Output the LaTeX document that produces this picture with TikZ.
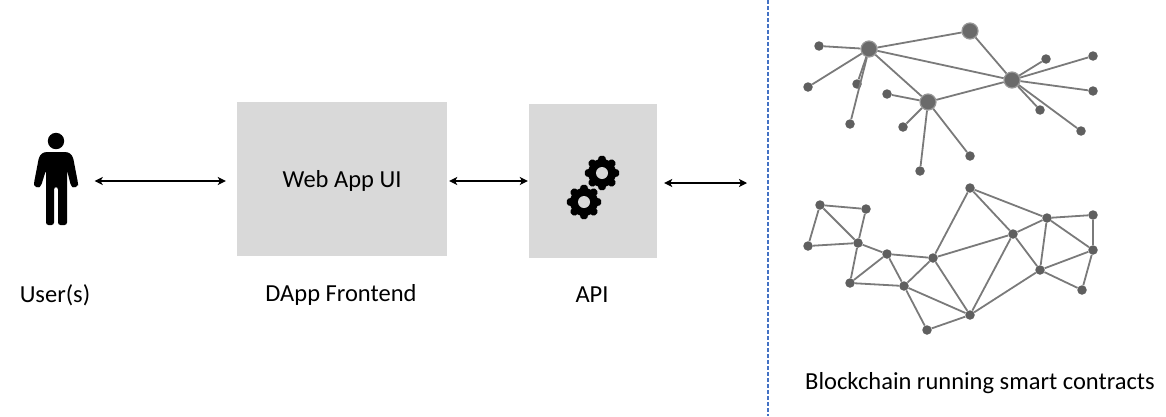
\documentclass[tikz,border=0pt]{standalone}
\usepackage{fontspec}
\setmainfont{Carlito}
\usetikzlibrary{arrows.meta}
\definecolor{boxgray}{HTML}{D9D9D9}
\definecolor{dotgray}{HTML}{5F5F5F}
\definecolor{hubgray}{HTML}{6A6A6A}
\definecolor{linkgray}{HTML}{7A7A7A}
\definecolor{splitblue}{HTML}{4472C4}
\tikzset{
  panel/.style={fill=boxgray, minimum width=#1, inner sep=0pt},
  caption/.style={font=\fontsize{24.5}{28}\selectfont, inner sep=0pt},
  hub/.style={circle, fill=hubgray, draw=hubgray!70!white, line width=1.2pt, minimum size=16pt, inner sep=0pt},
  leaf/.style={circle, fill=dotgray, minimum size=9.5pt, inner sep=0pt},
  link/.style={linkgray, line width=1.8pt},
  both/.style={{Stealth[length=8pt,width=8pt,inset=2pt]}-{Stealth[length=8pt,width=8pt,inset=2pt]}, line width=1.4pt, black},
  gear/.pic={
    \fill[black] (0,0) circle [radius=14];
    \foreach \a in {0,45,...,315}
      \fill[black, rotate=\a, rounded corners=1.5pt] (-4.5,11) -- (-3,17.2) -- (3,17.2) -- (4.5,11) -- cycle;
    \fill[boxgray] (0,0) circle [radius=6];
  }
}

\begin{document}
\begin{tikzpicture}[x=1pt,y=-1pt]
\useasboundingbox (0,0) rectangle (1166,416);

% boxes
\node[panel=210pt, minimum height=154pt] (web) at (342,179) {};
\node[panel=128pt, minimum height=154pt] (api) at (593,181) {};
\node[inner sep=0pt, minimum width=44pt, minimum height=92pt] (user) at (55.5,179) {};
\coordinate (chainport) at (747,183);

% person
\fill[black] (56,141) circle [radius=8.2];
\fill[black, rounded corners=2.5pt] (42,153) -- (46,152) -- (66,152) -- (70,153)
  -- (73,157) -- (78,183) -- (78,186) -- (74,188) -- (71,186) -- (67,170)
  -- (67,225) -- (58,225) -- (58,187) -- (54,187) -- (54,225) -- (46,225) -- (46,170)
  -- (41,186) -- (38,188) -- (34,186) -- (34,183) -- (39,157) -- cycle;

% gears
\pic at (602,173) {gear};
\pic at (584,202) {gear};

% texts
\node[caption] (webtext) at (342,181) {Web App UI};
\node[caption] (usertext) at (55,295) {User(s)};
\node[caption] (dapptext) at (341,295) {DApp Frontend};
\node[caption] (apitext) at (592,295) {API};
\node[caption] (chaintext) at (980,383) {Blockchain running smart contracts};

% arrows
\draw[both, shorten <=17pt, shorten >=11pt] (user.east |- 0,181) -- (web.west |- 0,181);
\draw[both, shorten <=2pt, shorten >=1pt] (web.east |- api.west) -- (api.west);
\draw[both, shorten <=7pt] (api.east |- chainport) -- (chainport);

% split
\coordinate (splittop) at (768,0);
\coordinate (splitbot) at (768,416);
\draw[splitblue, line width=1.1pt, dash pattern=on 3.5pt off 2.5pt] (splittop) -- (splitbot);

% star network
\foreach \n/\x/\y in {ha/869/49, hb/970/31, hc/1012/80, hd/928/102}
  \node[hub] (\n) at (\x,\y) {};
\foreach \n/\x/\y in {a1/819/46, a2/808/87, a3/857/84, a4/850/124,
                      d1/887/94, d2/903/127, d3/920/171, d4/970/156,
                      c1/1046/59, c2/1093/56, c3/1093/91, c4/1040/110, c5/1081/131}
  \node[leaf] (\n) at (\x,\y) {};
\foreach \s/\t in {ha/hb, ha/hc, ha/hd, hb/hc, hc/hd,
                   ha/a1, ha/a2, ha/a3, ha/a4,
                   hd/d1, hd/d2, hd/d3, hd/d4,
                   hc/c1, hc/c2, hc/c3, hc/c4, hc/c5}
  \draw[link] (\s) -- (\t);

% mesh network
\foreach \n/\x/\y in {m1/820/205, m2/866/209, m3/808/246, m4/858/243, m5/887/254, m6/850/283,
                      m7/904/286, m8/933/258, m9/970/188, m10/1013/234, m11/1047/218,
                      m12/1093/215, m13/1093/250, m14/1040/270, m15/1082/290, m16/970/315, m17/927/330}
  \node[leaf] (\n) at (\x,\y) {};
\foreach \s/\t in {m1/m2, m1/m3, m1/m4, m2/m4, m3/m4, m4/m5, m4/m6, m5/m6, m5/m7, m5/m8,
                   m6/m7, m7/m8, m7/m16, m7/m17, m17/m16, m8/m9, m8/m10, m8/m16, m9/m10, m9/m11,
                   m10/m11, m10/m14, m10/m16, m11/m12, m11/m13, m11/m14, m12/m13, m13/m14,
                   m13/m15, m14/m15, m14/m16}
  \draw[link] (\s) -- (\t);

\end{tikzpicture}
\end{document}
